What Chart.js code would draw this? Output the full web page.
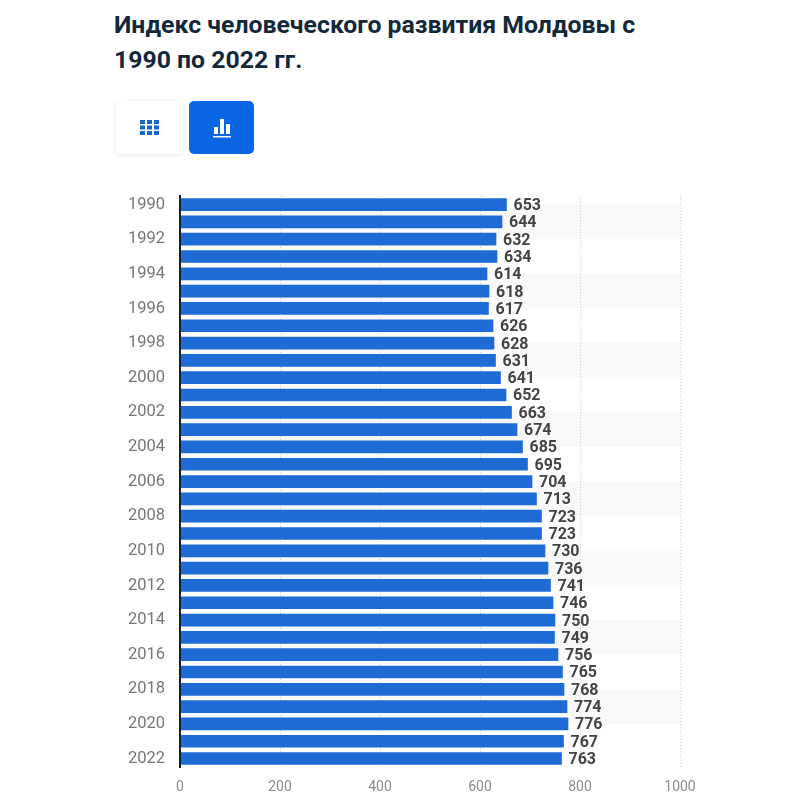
<!DOCTYPE html>
<html lang="ru">
<head>
<meta charset="utf-8">
<title>Индекс человеческого развития Молдовы</title>
<script src="https://cdn.jsdelivr.net/npm/chart.js@4"></script>
<style>
  html, body { margin:0; padding:0; background:#fff; }
  body { position:relative; width:800px; height:800px; overflow:hidden; font-family:Roboto, sans-serif; }
  h1 { position:absolute; left:114px; top:8px; width:620px; margin:0; font-size:24.800px; line-height:34.500px; font-weight:700; color:#14283c; }
  .btn { position:absolute; top:101px; height:53px; border-radius:5px; box-sizing:border-box; }
  .btn svg { position:absolute; }
  #btn-table { left:116px; width:67px; background:#fff; box-shadow:0 1px 5px rgba(0,0,0,.10); }
  #btn-chart { left:189px; width:65px; background:#0b66e4; }
  #wrap { position:absolute; left:100px; top:179px; width:620px; height:621px; }
</style>
</head>
<body>
<h1>Индекс человеческого развития Молдовы с<br>1990 по 2022 гг.</h1>
<div class="btn" id="btn-table">
  <svg style="left:24px;top:19px" width="19" height="15" viewBox="0 0 19 15" fill="#1766cc">
    <rect x="0" y="0" width="5" height="4"/><rect x="7" y="0" width="5" height="4"/><rect x="14" y="0" width="5" height="4"/>
    <rect x="0" y="5.500" width="5" height="4"/><rect x="7" y="5.500" width="5" height="4"/><rect x="14" y="5.500" width="5" height="4"/>
    <rect x="0" y="11" width="5" height="4"/><rect x="7" y="11" width="5" height="4"/><rect x="14" y="11" width="5" height="4"/>
  </svg>
</div>
<div class="btn" id="btn-chart">
  <svg style="left:24px;top:18px" width="18" height="19" viewBox="0 0 18 19" fill="#fff">
    <rect x="1" y="8" width="4" height="7"/><rect x="7" y="0" width="4" height="15"/><rect x="13" y="5" width="4" height="10"/>
    <rect x="0" y="17" width="18" height="1.500"/>
  </svg>
</div>
<div id="wrap"><canvas id="chart"></canvas></div>
<script>
const years = [1990,1991,1992,1993,1994,1995,1996,1997,1998,1999,2000,2001,2002,2003,2004,2005,2006,2007,2008,2009,2010,2011,2012,2013,2014,2015,2016,2017,2018,2019,2020,2021,2022];
const hdi = [653,644,632,634,614,618,617,626,628,631,641,652,663,674,685,695,704,713,723,723,730,736,741,746,750,749,756,765,768,774,776,767,763];
const xTicks = [0,200,400,600,800,1000];

// grey bands behind the bars, two rows each, starting from the middle of a row
const bands = {
  id:'bands',
  beforeDraw(chart){
    const {ctx, chartArea, scales:{y}} = chart;
    ctx.save();
    ctx.fillStyle = '#f9f9f9';
    for (let i = 0; i + 2 < years.length; i += 4){
      const top = y.getPixelForValue(i), bottom = y.getPixelForValue(i + 2);
      ctx.fillRect(chartArea.left, top, chartArea.right - chartArea.left, bottom - top);
    }
    ctx.restore();
  }
};

// value at the end of each bar
const barValues = {
  id:'barValues',
  afterDatasetsDraw(chart){
    const {ctx} = chart;
    ctx.save();
    ctx.font = '700 16px Roboto';
    ctx.fillStyle = '#444';
    ctx.textAlign = 'left';
    ctx.textBaseline = 'middle';
    chart.getDatasetMeta(0).data.forEach(function(bar, i){
      ctx.fillText(String(hdi[i]), bar.x + 7, bar.y + 1.5);
    });
    ctx.restore();
  }
};

new Chart(document.getElementById('chart').getContext('2d'), {
  type:'bar',
  data:{ labels:years, datasets:[{ data:hdi, backgroundColor:'#1e6bd6', barThickness:12, borderWidth:0 }]},
  options:{
    indexAxis:'y',
    responsive:true,
    maintainAspectRatio:false,
    animation:false,
    layout:{ padding:{ top:10, right:40, bottom:0, left:0 } },
    plugins:{ legend:{display:false}, tooltip:{enabled:false} },
    scales:{
      x:{
        min:0, max:1000,
        afterBuildTicks(axis){ axis.ticks = xTicks.map(v => ({value:v})); },
        grid:{ color:'#c9c9c9', lineWidth:1, tickLength:8, tickColor:'rgba(0,0,0,0)' },
        border:{ display:false, dash:[1,2] },
        ticks:{ color:'#8a8a8a', font:{family:'Roboto', size:14}, padding:4, maxRotation:0, callback(value){ return String(value); } }
      },
      y:{
        afterFit(axis){ axis.width = 80; },
        grid:{ display:false },
        border:{ color:'#14202c', width:2, z:1 },
        ticks:{
          autoSkip:false,
          color:'#777',
          font:{family:'Roboto', size:16.500},
          padding:7,
          callback(value, index){ return index % 2 === 0 ? years[index] : ''; }
        }
      }
    }
  },
  plugins:[bands, barValues]
});
</script>
</body>
</html>
